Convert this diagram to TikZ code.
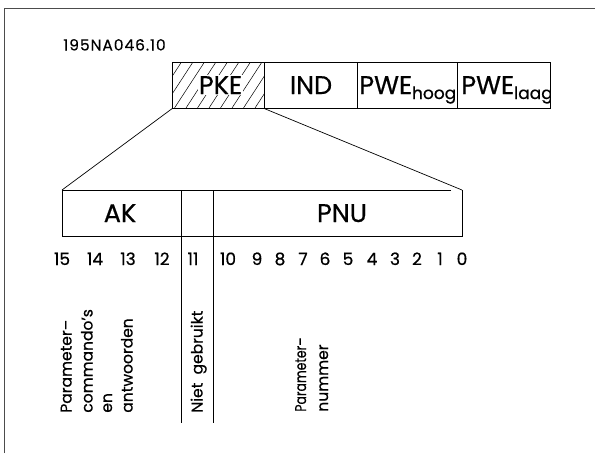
\documentclass[tikz,border=0pt]{standalone}
\usepackage{fontspec}
\setmainfont{Poppins}[FakeBold=0.6]
\newfontfamily\codefont{Poppins}[FakeBold=0.3,LetterSpace=6]
\newcommand\subsz{\fontsize{17}{18}\selectfont}
\begin{document}
\begin{tikzpicture}[x=1pt,y=-1pt,line width=0.7pt,
  boxcell/.style={draw,inner sep=0pt,minimum height=46pt,anchor=north west},
  bigtxt/.style={font=\fontsize{25.5}{27}\selectfont,inner sep=0pt,anchor=base},
  numtxt/.style={font=\fontsize{17}{18}\selectfont,inner sep=0pt,anchor=base},
  vtxt/.style={font=\fontsize{15.5}{17}\selectfont,inner sep=0pt,anchor=base west,rotate=90}]
\useasboundingbox (0,0) rectangle (595,453);
% frame
\draw[black!70,line width=0.9pt] (4.7,453) -- (4.7,8.7) -- (595,8.7);
% code
\node[font=\codefont\fontsize{15.5}{17}\selectfont,inner sep=0pt,anchor=base west] (code) at (63,50.5) {195NA046.10};
% hatch in PKE
\begin{scope}
  \clip (172,62) rectangle (264,108);
  \foreach \i in {0,...,13} \draw[line width=0.5pt] (140+\i*11.5,108) -- ++(30,-46);
\end{scope}
% top cells
\node[boxcell,minimum width=92pt] (pke) at (172,62) {};
\node[boxcell,minimum width=93pt] (ind) at (264,62) {};
\node[boxcell,minimum width=100pt] (pweh) at (357,62) {};
\node[boxcell,minimum width=93pt] (pwel) at (457,62) {};
\node[bigtxt,fill=white,inner sep=1pt] (tpke) at (220.5,94) {PKE};
\node[bigtxt] (tind) at (311,94) {IND};
\node[bigtxt,anchor=base west] (tpweh) at (359,94) {PWE\raisebox{-5pt}{\subsz hoog}};
\begin{scope}
  \clip (457,62) rectangle (550,108);
  \node[bigtxt,anchor=base west] (tpwel) at (461,94) {PWE\raisebox{-5pt}{\subsz laag}};
\end{scope}
% lower box
\coordinate (lnw) at (62,190);
\coordinate (lne) at (462,190);
\coordinate (lsw) at (62,236);
\coordinate (lse) at (462,236);
\coordinate (ltop) at (451,190);
\draw (ltop) -- (lnw) -- (lsw) -- (lse) -- (lne);
\draw (pke.south west) -- (lnw);
\draw (pke.south east) -- (lne);
\coordinate (d1t) at (181,190); \coordinate (d1b) at (181,423);
\coordinate (d2t) at (213,190); \coordinate (d2b) at (213,423);
\draw (d1t) -- (d1b);
\draw (d2t) -- (d2b);
\node[bigtxt] (ak) at (120,222) {AK};
\node[bigtxt] (pnu) at (342,222) {PNU};
% bit numbers
\foreach \n/\x in {15/62,14/95,13/128,12/162,11/193,10/228,9/257,8/280,7/303,6/325,5/348,4/372,3/395,2/417,1/440,0/462}
  \node[numtxt] (b\n) at (\x,265) {\n};
% vertical labels
\node[vtxt] (v1) at (71.5,413) {Parameter–};
\node[vtxt] (v2) at (92.5,413) {commando’s};
\node[vtxt] (v3) at (112,413) {en};
\node[vtxt] (v4) at (132.5,413) {antwoorden};
\node[vtxt] (v5) at (202.5,413) {Niet\ \ gebruikt};
\node[vtxt] (v6) at (306,412) {\scalebox{0.8}[1]{Parameter–}};
\node[vtxt] (v7) at (328,412) {nummer};
\end{tikzpicture}
\end{document}
